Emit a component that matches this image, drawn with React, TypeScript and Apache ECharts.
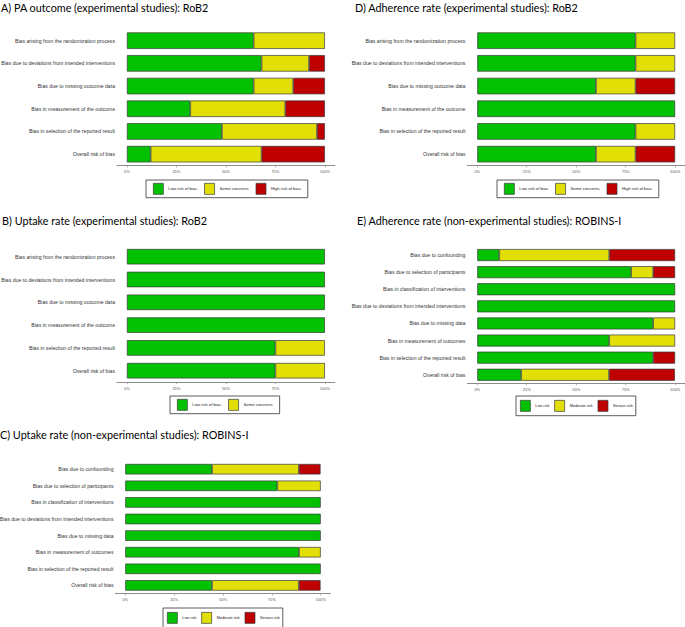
import React, { useEffect, useRef } from "react";
import * as echarts from "echarts";

// ---- categories ----
const rob2Domains = [
  "Bias arising from the randomization process",
  "Bias due to deviations from intended interventions",
  "Bias due to missing outcome data",
  "Bias in measurement of the outcome",
  "Bias in selection of the reported result",
  "Overall risk of bias",
];
const robinsDomains = [
  "Bias due to confounding",
  "Bias due to selection of participants",
  "Bias in classification of interventions",
  "Bias due to deviations from intended interventions",
  "Bias due to missing data",
  "Bias in measurement of outcomes",
  "Bias in selection of the reported result",
  "Overall risk of bias",
];
const rob2Levels = ["Low risk of bias", "Some concerns", "High risk of bias"];
const robinsLevels = ["Low risk", "Moderate risk", "Serious risk"];
const tickValues = [0, 25, 50, 75, 100];

// ---- series values (% of studies) ----
// A) PA outcome (experimental, RoB2)
const paLow = [64, 68, 64, 32, 48, 12];
const paSome = [36, 24, 20, 48, 48, 56];
const paHigh = [0, 8, 16, 20, 4, 32];
// B) Uptake rate (experimental, RoB2)
const upExpLow = [100, 100, 100, 100, 75, 75];
const upExpSome = [0, 0, 0, 0, 25, 25];
const upExpHigh = [0, 0, 0, 0, 0, 0];
// C) Uptake rate (non-experimental, ROBINS-I)
const upNonLow = [44.4, 77.8, 100, 100, 100, 88.9, 100, 44.4];
const upNonMod = [44.4, 22.2, 0, 0, 0, 11.1, 0, 44.4];
const upNonSer = [11.1, 0, 0, 0, 0, 0, 0, 11.1];
// D) Adherence rate (experimental, RoB2)
const adExpLow = [80, 80, 60, 100, 80, 60];
const adExpSome = [20, 20, 20, 0, 20, 20];
const adExpHigh = [0, 0, 20, 0, 0, 20];
// E) Adherence rate (non-experimental, ROBINS-I)
const adNonLow = [11.1, 77.8, 100, 100, 88.9, 66.7, 88.9, 22.2];
const adNonMod = [55.6, 11.1, 0, 0, 11.1, 33.3, 0, 44.4];
const adNonSer = [33.3, 11.1, 0, 0, 0, 0, 11.1, 33.3];

const COLORS = ["#02C100", "#E2DF07", "#BF0000"];

type LegendStyle = { font: number; gap: number; pad: number[]; itemHeight: number };
const rob2LegendStyle: LegendStyle = { font: 4.2, gap: 7, pad: [3, 7, 3, 7], itemHeight: 11 };
const robinsLegendStyle: LegendStyle = { font: 3.8, gap: 5, pad: [4, 3, 4, 4], itemHeight: 11 };

type Panel = {
  title: string;
  domains: string[];
  levels: string[];
  values: number[][];
  legendItems: number;
  grid: { left: number; top: number; width: number; height: number };
  barWidth: number;
  titlePos: { left: number; top: number };
  legendPos: { left: number; top: number };
  legendStyle: LegendStyle;
};

const panels: Panel[] = [
  {
    title: "A) PA outcome (experimental studies): RoB2",
    domains: rob2Domains,
    levels: rob2Levels,
    values: [paLow, paSome, paHigh],
    legendItems: 3,
    grid: { left: 117, top: 29.3, width: 217.8, height: 136.2 },
    barWidth: 16.5,
    titlePos: { left: 1, top: 2 },
    legendPos: { left: 146, top: 180 },
    legendStyle: rob2LegendStyle,
  },
  {
    title: "B) Uptake rate (experimental studies): RoB2",
    domains: rob2Domains,
    levels: rob2Levels,
    values: [upExpLow, upExpSome, upExpHigh],
    legendItems: 2,
    grid: { left: 117, top: 245.3, width: 217.8, height: 136.8 },
    barWidth: 15.5,
    titlePos: { left: 2, top: 215 },
    legendPos: { left: 170, top: 396 },
    legendStyle: rob2LegendStyle,
  },
  {
    title: "C) Uptake rate (non-experimental studies): ROBINS-I",
    domains: robinsDomains,
    levels: robinsLevels,
    values: [upNonLow, upNonMod, upNonSer],
    legendItems: 3,
    grid: { left: 115.5, top: 460.9, width: 215, height: 132.8 },
    barWidth: 10.5,
    titlePos: { left: 0, top: 429 },
    legendPos: { left: 163, top: 608 },
    legendStyle: robinsLegendStyle,
  },
  {
    title: "D) Adherence rate (experimental studies): RoB2",
    domains: rob2Domains,
    levels: rob2Levels,
    values: [adExpLow, adExpSome, adExpHigh],
    legendItems: 3,
    grid: { left: 467.4, top: 29.3, width: 217.6, height: 136.2 },
    barWidth: 16.5,
    titlePos: { left: 355, top: 2 },
    legendPos: { left: 497, top: 180 },
    legendStyle: rob2LegendStyle,
  },
  {
    title: "E) Adherence rate (non-experimental studies): ROBINS-I",
    domains: robinsDomains,
    levels: robinsLevels,
    values: [adNonLow, adNonMod, adNonSer],
    legendItems: 3,
    grid: { left: 467.4, top: 246.5, width: 217.6, height: 136.8 },
    barWidth: 12,
    titlePos: { left: 357, top: 215 },
    legendPos: { left: 516, top: 396 },
    legendStyle: robinsLegendStyle,
  },
];

function buildOption() {
  const title: any[] = [];
  const grid: any[] = [];
  const xAxis: any[] = [];
  const yAxis: any[] = [];
  const series: any[] = [];
  const legend: any[] = [];

  panels.forEach((p, i) => {
    title.push({
      text: p.title,
      left: p.titlePos.left,
      top: p.titlePos.top,
      padding: 0,
      textStyle: {
        fontFamily: "Lato",
        fontSize: 10.8,
        fontWeight: "normal",
        color: "#000",
      },
    });
    grid.push({ ...p.grid, containLabel: false, outerBoundsMode: "none" });
    xAxis.push({
      type: "value",
      gridIndex: i,
      min: -5,
      max: 105,
      splitLine: { show: false },
      axisLine: { show: true, lineStyle: { color: "#8c8c8c", width: 1 } },
      axisTick: {
        show: true,
        customValues: tickValues,
        length: 2,
        lineStyle: { color: "#8c8c8c", width: 0.6 },
      },
      axisLabel: {
        customValues: tickValues,
        formatter: "{value}%",
        fontFamily: "Liberation Sans",
        fontSize: 4,
        color: "#555",
        margin: 4,
      },
    });
    yAxis.push({
      type: "category",
      gridIndex: i,
      data: p.domains,
      inverse: true,
      axisLine: { show: false },
      axisTick: { show: false },
      axisLabel: {
        fontFamily: "Liberation Sans",
        fontSize: 5.15,
        color: "#333",
        margin: 2,
      },
    });
    p.levels.forEach((lvl, k) => {
      series.push({
        type: "bar",
        name: lvl,
        stack: "panel" + i,
        xAxisIndex: i,
        yAxisIndex: i,
        barWidth: p.barWidth,
        itemStyle: { color: COLORS[k], borderColor: "#3a3a3a", borderWidth: 0.7 },
        data: p.values[k].map((v) => (v > 0 ? v : "-")),
      });
    });
    const ls = p.legendStyle;
    legend.push({
      left: p.legendPos.left,
      top: p.legendPos.top,
      orient: "horizontal",
      data: p.levels.slice(0, p.legendItems),
      icon: "rect",
      itemWidth: 10,
      itemHeight: ls.itemHeight,
      itemGap: ls.gap,
      padding: ls.pad,
      borderColor: "#333",
      borderWidth: 0.8,
      selectedMode: false,
      itemStyle: { borderColor: "#3a3a3a", borderWidth: 0.7 },
      textStyle: { fontFamily: "Liberation Sans", fontSize: ls.font, color: "#222" },
    });
  });

  return {
    animation: false,
    backgroundColor: "#fff",
    title,
    grid,
    xAxis,
    yAxis,
    series,
    legend,
  };
}

export default function App() {
  const ref = useRef<HTMLDivElement>(null);
  useEffect(() => {
    if (!ref.current) return;
    const chart = echarts.init(ref.current, undefined, { renderer: "svg" });
    chart.setOption(buildOption());
    return () => chart.dispose();
  }, []);
  return (
    <div
      ref={ref}
      style={{ position: "absolute", left: 0, top: 0, width: 685, height: 627, background: "#fff" }}
    />
  );
}
